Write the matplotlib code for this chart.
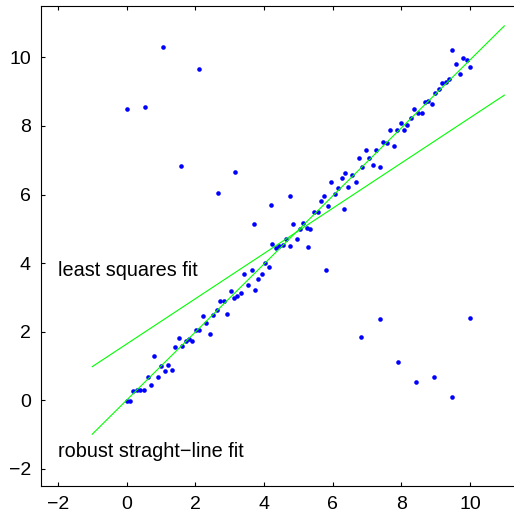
import numpy as np
import matplotlib
matplotlib.use('Agg')
import matplotlib.pyplot as plt

################################################################################
# data #

# main points along the line #
x_main = [0.00, 0.10, 0.20, 0.30, 0.40, 0.51, 0.61, 0.71, 0.81, 0.91,
          1.01, 1.11, 1.21, 1.31, 1.41, 1.52, 1.62, 1.72, 1.82, 1.92,
          2.02, 2.12, 2.22, 2.32, 2.42, 2.53, 2.63, 2.73, 2.83, 2.93,
          3.03, 3.13, 3.23, 3.33, 3.43, 3.54, 3.64, 3.74, 3.84, 3.94,
          4.04, 4.14, 4.24, 4.34, 4.44, 4.55, 4.65, 4.75, 4.85, 4.95,
          5.05, 5.15, 5.25, 5.35, 5.45, 5.56, 5.66, 5.76, 5.86, 5.96,
          6.06, 6.16, 6.26, 6.36, 6.46, 6.57, 6.67, 6.77, 6.87, 6.97,
          7.07, 7.17, 7.27, 7.37, 7.47, 7.58, 7.68, 7.78, 7.88, 7.98,
          8.08, 8.18, 8.28, 8.38, 8.48, 8.59, 8.69, 8.79, 8.89, 8.99,
          9.09, 9.19, 9.29, 9.39, 9.49, 9.60, 9.70, 9.80, 9.90, 10.00]
y_main = [-0.03, -0.03, 0.26, 0.29, 0.30, 0.31, 0.68, 0.44, 1.30, 0.67,
          1.01, 0.84, 1.03, 0.89, 1.56, 1.83, 1.57, 1.72, 1.79, 1.73,
          2.06, 2.06, 2.46, 2.26, 1.92, 2.50, 2.64, 2.90, 2.91, 2.52,
          3.20, 2.97, 3.05, 3.13, 3.68, 3.35, 3.79, 3.22, 3.53, 3.68,
          4.01, 3.90, 4.56, 4.43, 4.51, 4.53, 4.70, 4.50, 5.13, 4.69,
          5.01, 5.17, 5.03, 5.01, 5.50, 5.50, 5.81, 5.97, 5.68, 6.37,
          6.01, 6.20, 6.48, 6.64, 6.21, 6.57, 6.36, 7.08, 6.79, 7.29,
          7.06, 6.87, 7.29, 6.80, 7.52, 7.50, 7.87, 7.42, 7.88, 8.10,
          7.88, 8.04, 8.23, 8.49, 8.39, 8.37, 8.70, 8.72, 8.65, 8.96,
          9.07, 9.25, 9.28, 9.36, 10.23, 9.80, 9.52, 9.98, 9.92, 9.73]

# outliers #
x_out = [0.01, 0.54, 1.07, 1.59, 2.12, 2.65, 3.17, 3.70, 4.22, 4.75,
         5.27, 5.80, 6.32, 6.84, 7.37, 7.90, 8.43, 8.95, 9.49, 10.00]
y_out = [8.50, 8.56, 10.31, 6.83, 9.66, 6.05, 6.66, 5.14, 5.69, 5.97,
         4.48, 3.79, 5.57, 1.84, 2.38, 1.13, 0.52, 0.67, 0.09, 2.40]

# fitted lines (end points) #
fit_x = [-1, 11]
ls_y = [0.98, 8.90]
robust_y = [-0.99, 10.92]

# labels #
ls_label = 'least squares fit'
robust_label = 'robust straght\u2212line fit'
ticks = [-2, 0, 2, 4, 6, 8, 10]

################################################################################
# plot #

plt.rcParams['font.family'] = ['Liberation Sans', 'DejaVu Sans']

fig = plt.figure(figsize=(5.14, 5.18), dpi=100)
ax = fig.add_axes([40.7/514, 32/518, 480.8/514, 480/518])

ax.plot(x_main, y_main, 'o', color=(0, 0, 1), ms=3.3, mec='none')
ax.plot(x_out, y_out, 'o', color=(0, 0, 1), ms=3.3, mec='none')
ax.plot(fit_x, ls_y, '-', color=(0, 1, 0), lw=0.8)
ax.plot(fit_x, robust_y, '-', color=(0, 1, 0), lw=0.8)

ax.text(-2, 3.78, ls_label, fontsize=14.3, va='center', ha='left')
ax.text(-2, -1.5, robust_label, fontsize=14.3, va='center', ha='left')

ax.set_xlim(-2.5, 11.5)
ax.set_ylim(-2.5, 11.5)
ax.set_xticks(ticks)
ax.set_yticks(ticks)
ax.tick_params(direction='in', length=3, width=0.8, labelsize=14,
               top=True, right=True, pad=7)
for s in ax.spines.values():
  s.set_linewidth(0.8)

plt.savefig('out.png', dpi=100)
plt.close()
